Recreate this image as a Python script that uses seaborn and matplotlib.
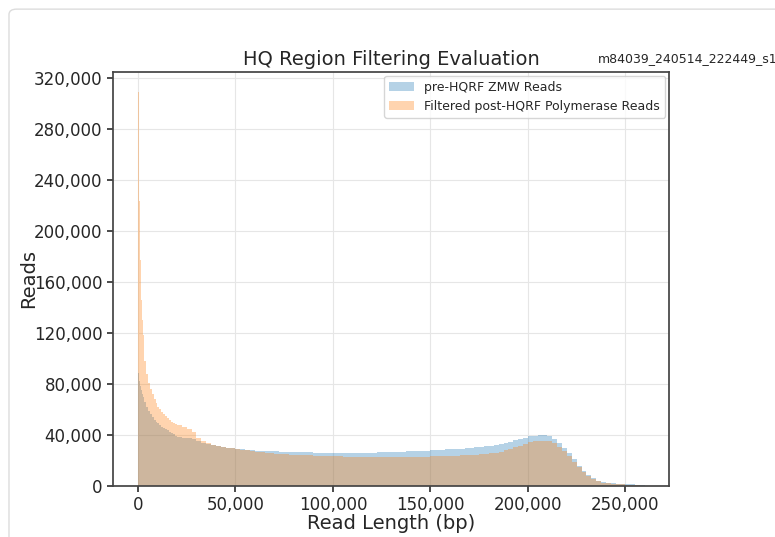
import numpy as np
import pandas as pd
import matplotlib
matplotlib.use("Agg")
import matplotlib.pyplot as plt
from matplotlib.patches import FancyBboxPatch
from matplotlib.ticker import FuncFormatter
import seaborn as sns

sns.set_theme(style="ticks")
plt.rcParams['font.family'] = ['DejaVu Sans']

# bin edges (bp): fine near zero, 2.5 kb after 20 kb
bin_edges = np.concatenate([
    np.arange(0, 3000, 500),
    np.arange(3000, 20000, 1000),
    np.arange(20000, 260001, 2500),
]).tolist()

# pre-HQRF ZMW reads, count per bin
pre_hqrf = [
    88600, 82000, 78000, 75000, 72000, 69500,
    66000, 62000, 59000, 56500, 54000, 52000, 50500, 49000, 47500,
    46500, 45500, 44500, 43500, 42500, 41500, 40500, 39500,
    38500, 38000, 37400, 36500, 35200, 34000, 33000, 32000,
    31200, 30500, 30000, 29500, 29000, 28700, 28300, 28000,
    27800, 27600, 27500, 27300, 27200, 27000, 26900, 26700,
    26600, 26500, 26400, 26300, 26200, 26200, 26100, 26100,
    26000, 26000, 26000, 26000, 26000, 26000, 26100, 26100,
    26200, 26300, 26400, 26500, 26600, 26800, 26900, 27100,
    27200, 27400, 27500, 27700, 27900, 28100, 28300, 28600,
    28800, 29100, 29300, 29600, 29900, 30200, 30600, 31100,
    31600, 32300, 33000, 33800, 34800, 35800, 37000, 38000,
    38800, 39400, 39900, 39800, 38800, 36800, 33600, 29800,
    25500, 20800, 16000, 11800, 8400, 5900, 4200, 3200,
    2600, 2200, 1900, 1600, 1400, 1200, 1000, 700,
]

# filtered post-HQRF polymerase reads
post_hqrf = [
    309000, 223000, 177000, 146000, 130000, 118000,
    98000, 88000, 81000, 76000, 72000, 68000, 65000, 62000, 60000,
    58000, 56500, 55000, 53500, 52000, 50500, 49500, 48500,
    47500, 46000, 44500, 42000, 37500, 35000, 33500, 32000,
    31200, 30500, 30000, 29500, 29000, 28500, 28000, 27500,
    26700, 26300, 26000, 25700, 25400, 25100, 24800, 24600,
    24400, 24200, 24100, 23900, 23800, 23600, 23500, 23400,
    23300, 23200, 23100, 23000, 22900, 22900, 22800, 22800,
    22700, 22700, 22700, 22700, 22700, 22700, 22800, 22800,
    22900, 22900, 23000, 23100, 23200, 23300, 23400, 23500,
    23600, 23700, 23900, 24000, 24200, 24400, 24700, 25100,
    25500, 26200, 27000, 28000, 29000, 30200, 31600, 33000,
    34200, 35000, 35500, 35500, 35000, 33400, 30800, 27300,
    23300, 19000, 14800, 10800, 7500, 5200, 3600, 2700,
    2100, 1800, 1500, 1300, 1100, 900, 600, 300,
]

movie_name = "m84039_240514_222449_s1"

edges = np.array(bin_edges)
mids = (edges[:-1] + edges[1:]) / 2
df = pd.DataFrame({"length": mids, "pre": pre_hqrf, "post": post_hqrf})

fig = plt.figure(figsize=(7.75, 5.37), dpi=100)
ax = fig.add_axes([0.1458, 0.095, 0.7174, 0.771])

sns.histplot(data=df, x="length", weights="pre", bins=bin_edges, color="#1f77b4",
             alpha=0.33, linewidth=0, label="pre-HQRF ZMW Reads", ax=ax)
sns.histplot(data=df, x="length", weights="post", bins=bin_edges, color="#ff7f0e",
             alpha=0.33, linewidth=0, label="Filtered post-HQRF Polymerase Reads", ax=ax)

ax.set_xlim(-12800, 272300)
ax.set_ylim(0, 324500)
ax.set_xticks([0, 50000, 100000, 150000, 200000, 250000])
ax.set_yticks(np.arange(0, 320001, 40000))
fmt = FuncFormatter(lambda v, p: f"{int(v):,}")
ax.xaxis.set_major_formatter(fmt)
ax.yaxis.set_major_formatter(fmt)
ax.tick_params(labelsize=12, color="#333333", length=4)
ax.grid(True, color="#e6e6e6", linewidth=0.8)
ax.set_axisbelow(True)
for s in ax.spines.values():
    s.set_color("#444444")

ax.set_xlabel("Read Length (bp)", fontsize=14, labelpad=0)
ax.set_ylabel("Reads", fontsize=14, labelpad=-3)
ax.set_title("HQ Region Filtering Evaluation", fontsize=14, pad=5)
fig.text(0.7716, 0.8845, movie_name, fontsize=9, ha="left", va="baseline")

ax.legend(loc="upper right", fontsize=9, frameon=True, borderaxespad=0.3)

# light card border like the report page
card = FancyBboxPatch((0.0116, -0.1), 1.2, 1.083, boxstyle="round,pad=0,rounding_size=0.01",
                      transform=fig.transFigure, facecolor="none", edgecolor="#dcdcdc",
                      linewidth=1.0, clip_on=False)
fig.patches.append(card)

fig.savefig("out.png", dpi=100)
